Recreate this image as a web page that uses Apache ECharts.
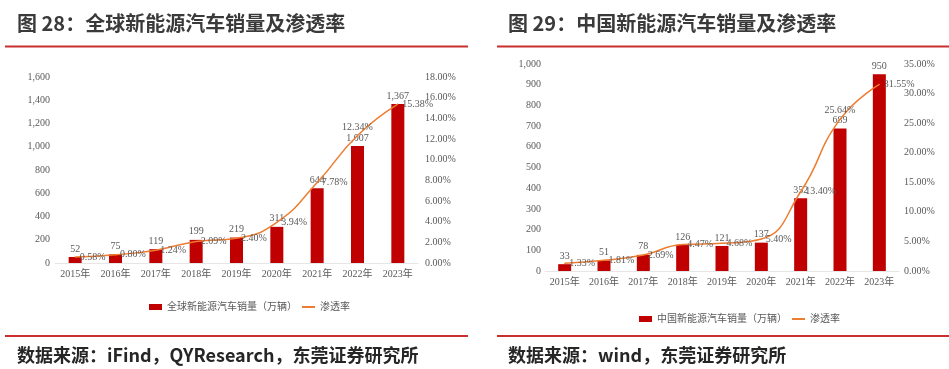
<!DOCTYPE html>
<html><head><meta charset="utf-8">
<script src="https://cdn.jsdelivr.net/npm/echarts@6/dist/echarts.min.js"></script>
<style>html,body{margin:0;padding:0;background:#fff}#c{width:949px;height:369px}</style>
</head><body><div id="c"></div>
<script>
const years = ['2015年','2016年','2017年','2018年','2019年','2020年','2021年','2022年','2023年'];
const globalSales = [52, 75, 119, 199, 219, 311, 644, 1007, 1367];
const globalRate = [0.58, 0.80, 1.24, 2.09, 2.40, 3.94, 7.78, 12.34, 15.38];
const chinaSales = [33, 51, 78, 126, 121, 137, 352, 689, 950];
const chinaRate = [1.33, 1.81, 2.69, 4.47, 4.68, 5.40, 13.40, 25.64, 31.55];
const titleLeft = '图 28：全球新能源汽车销量及渗透率';
const titleRight = '图 29：中国新能源汽车销量及渗透率';
const sourceLeft = '数据来源：iFind，QYResearch，东莞证券研究所';
const sourceRight = '数据来源：wind，东莞证券研究所';
const barNameLeft = '全球新能源汽车销量（万辆）';
const barNameRight = '中国新能源汽车销量（万辆）';
const lineName = '渗透率';

const RED = '#C00000', ORANGE = '#ED7D31', TXT = '#595959';
const FONT = '"Liberation Serif","Noto Sans CJK SC",serif';
const fmtK = v => Number(v).toLocaleString('en-US');
const fmtP = v => Number(v).toFixed(2) + '%';

const chart = echarts.init(document.getElementById('c'), null, {renderer:'canvas'});
const lbl = {color: TXT, fontSize: 10, fontFamily: FONT};

function xAxis(gi){
  return {type:'category', gridIndex:gi, data:years,
    axisLine:{show:true, lineStyle:{color:'#e6e6e6'}}, axisTick:{show:false},
    axisLabel:Object.assign({margin:6}, lbl)};
}
function yAxis(gi, max, interval, fmt, pos, margin){
  return {type:'value', gridIndex:gi, min:0, max:max, interval:interval, position:pos,
    splitLine:{show:false}, axisLine:{show:false}, axisTick:{show:false},
    axisLabel:Object.assign({formatter:fmt, margin:margin}, lbl)};
}
function rateData(arr){ return arr.map((v,i)=> i===7 ? {value:v, label:{position:'top', distance:3}} : v); }
const lineIcon = 'path://M0,0H20V3H0Z';
const legTxt = {color:TXT, fontSize:10, fontFamily:FONT};

function lineSeries(xi, yi, arr){
  return {name:lineName, type:'line', xAxisIndex:xi, yAxisIndex:yi, data:rateData(arr), smooth:true,
    symbol:'circle', symbolSize:1, showSymbol:true, showAllSymbol:true, lineStyle:{color:ORANGE, width:1.5},
    itemStyle:{color:ORANGE},
    labelLayout:{hideOverlap:false},
    label:Object.assign({show:true, position:'right', distance:4, formatter:p=>fmtP(p.value)}, lbl)};
}
function barSeries(name, xi, yi, arr){
  return {name:name, type:'bar', xAxisIndex:xi, yAxisIndex:yi, data:arr, barWidth:13,
    itemStyle:{color:RED}, label:Object.assign({show:true, position:'top', distance:3, formatter:p=>fmtK(p.value)}, lbl)};
}

const option = {
  animation:false,
  grid:[
    {left:55, top:77, width:363, height:186},
    {left:545, top:64, width:354, height:207}
  ],
  xAxis:[xAxis(0), xAxis(1)],
  yAxis:[
    yAxis(0, 1600, 200, fmtK, 'left', 5),
    yAxis(0, 18, 2, fmtP, 'right', 7),
    yAxis(1, 1000, 100, fmtK, 'left', 4),
    yAxis(1, 35, 5, fmtP, 'right', 5)
  ],
  legend:[
    {left:144, top:297, itemWidth:13, itemHeight:6, itemGap:5, textStyle:legTxt,
     data:[{name:barNameLeft, icon:'rect'}, {name:lineName, icon:lineIcon}]},
    {left:634, top:309, itemWidth:13, itemHeight:6, itemGap:5, textStyle:legTxt,
     data:[{name:barNameRight, icon:'rect'}, {name:lineName, icon:lineIcon}]}
  ],
  series:[
    barSeries(barNameLeft, 0, 0, globalSales),
    lineSeries(0, 1, globalRate),
    barSeries(barNameRight, 1, 2, chinaSales),
    lineSeries(1, 3, chinaRate)
  ],
  graphic:[
    {type:'text', left:17, top:13, style:{text:titleLeft, fill:'#3a3a3a', fontSize:20, fontWeight:'bold', fontFamily:'"Noto Sans CJK SC",sans-serif'}},
    {type:'text', left:508, top:13, style:{text:titleRight, fill:'#3a3a3a', fontSize:20, fontWeight:'bold', fontFamily:'"Noto Sans CJK SC",sans-serif'}},
    {type:'rect', shape:{x:5, y:45.5, width:463, height:2}, style:{fill:'#C8302F'}},
    {type:'rect', shape:{x:497, y:45.5, width:452, height:2}, style:{fill:'#C8302F'}},
    {type:'rect', shape:{x:5, y:335, width:463, height:2}, style:{fill:'#C8302F'}},
    {type:'rect', shape:{x:497, y:335, width:452, height:2}, style:{fill:'#C8302F'}},
    {type:'text', left:17, top:346, style:{text:sourceLeft, fill:'#262626', fontSize:18, fontWeight:'bold', fontFamily:'"Noto Sans CJK SC",sans-serif'}},
    {type:'text', left:508, top:346, style:{text:sourceRight, fill:'#262626', fontSize:18, fontWeight:'bold', fontFamily:'"Noto Sans CJK SC",sans-serif'}}
  ]
};
chart.setOption(option);
</script></body></html>
